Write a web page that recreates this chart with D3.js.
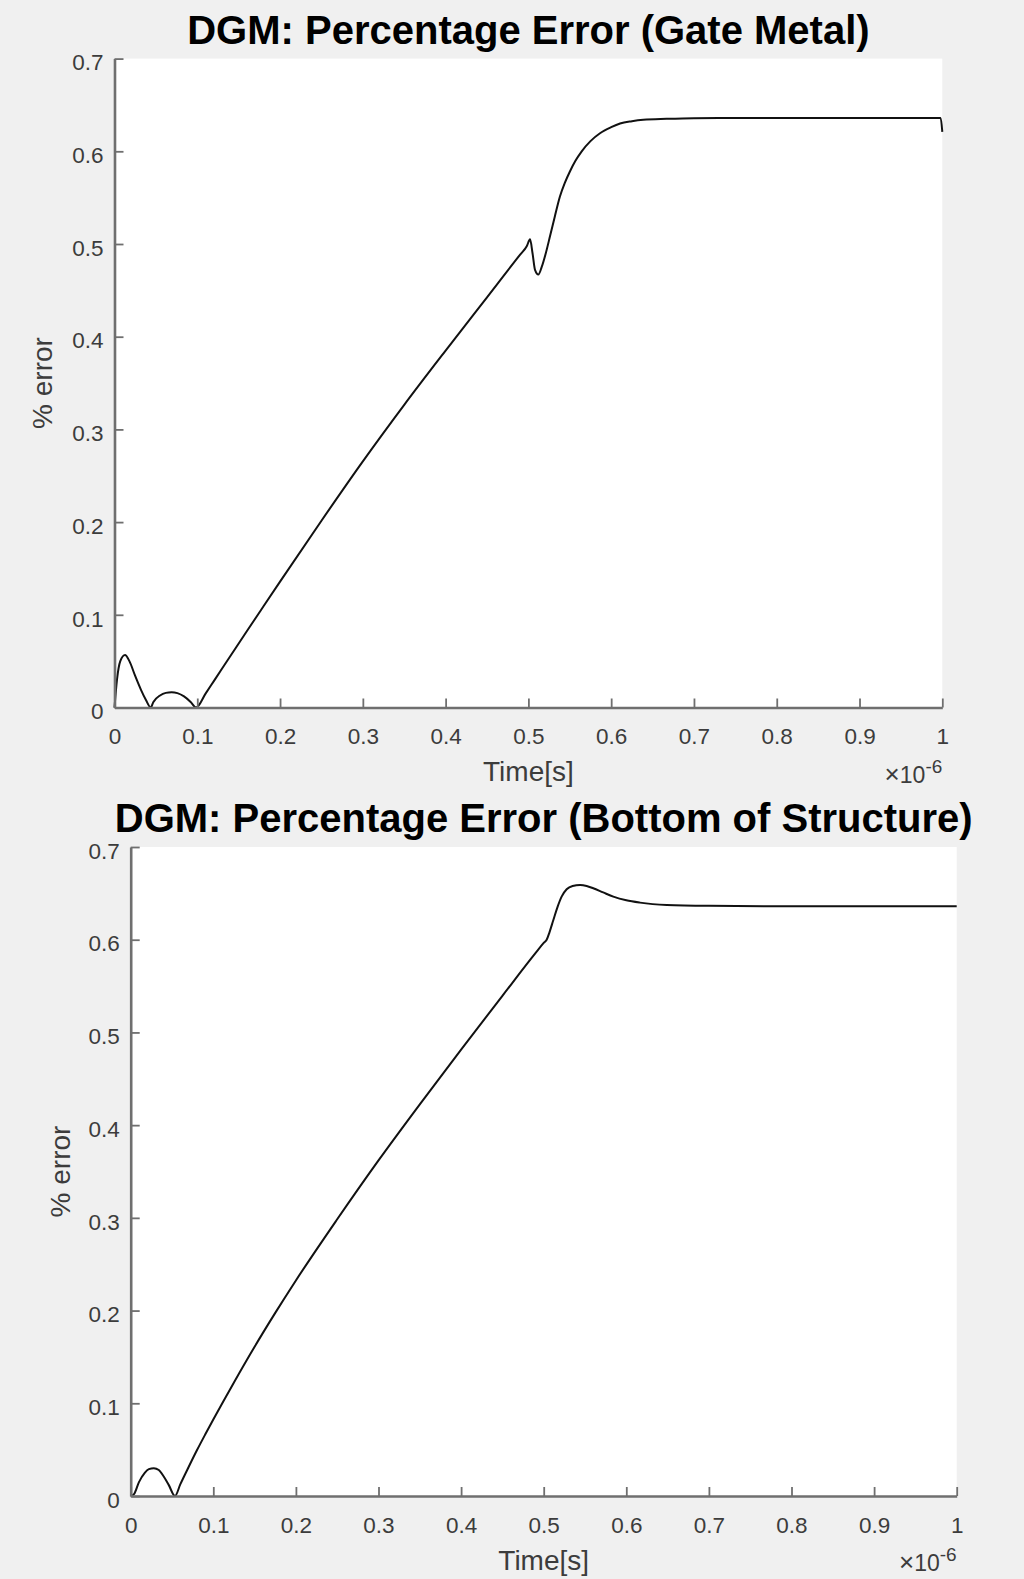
<!DOCTYPE html>
<html>
<head>
<meta charset="utf-8">
<script src="https://cdn.jsdelivr.net/npm/d3@7"></script>
<style>
  html, body { margin: 0; padding: 0; background: #f0f0f0; }
  svg { display: block; }
  text { font-family: "Liberation Sans", Arial, Helvetica, sans-serif; }
</style>
</head>
<body>
<svg id="fig" width="1024" height="1579"></svg>
<script>
// Time axis in units of 1e-6 s, error in percent.
const gateTime = [0, 0.003, 0.007, 0.0127, 0.018, 0.025, 0.032, 0.038, 0.0437, 0.047, 0.055, 0.062, 0.069, 0.076, 0.084, 0.092, 0.0985, 0.11, 0.12, 0.14, 0.16, 0.18, 0.2, 0.25, 0.3, 0.35, 0.4, 0.45, 0.49, 0.498, 0.502, 0.505, 0.508, 0.512, 0.516, 0.521, 0.526, 0.532, 0.538, 0.544, 0.55, 0.557, 0.5644, 0.575, 0.5865, 0.6, 0.6107, 0.625, 0.6388, 0.667, 0.7, 0.8, 0.9, 0.998, 1.0];
const gateError = [0, 0.030, 0.050, 0.0566, 0.050, 0.034, 0.019, 0.008, 0, 0.006, 0.013, 0.0158, 0.0165, 0.0155, 0.012, 0.006, 0, 0.0150, 0.0285, 0.0555, 0.0825, 0.1092, 0.1358, 0.2015, 0.2655, 0.3265, 0.3850, 0.4425, 0.4885, 0.4975, 0.505, 0.490, 0.472, 0.467, 0.475, 0.490, 0.508, 0.530, 0.551, 0.566, 0.578, 0.590, 0.600, 0.611, 0.6195, 0.626, 0.630, 0.6325, 0.634, 0.635, 0.6357, 0.636, 0.636, 0.636, 0.621];

const bottomTime = [0, 0.004, 0.010, 0.017, 0.022, 0.028, 0.034, 0.040, 0.046, 0.0536, 0.06, 0.07, 0.08, 0.09, 0.1, 0.125, 0.15, 0.175, 0.2, 0.25, 0.3, 0.35, 0.4, 0.45, 0.49, 0.5, 0.5036, 0.507, 0.5116, 0.517, 0.5217, 0.5278, 0.535, 0.544, 0.552, 0.56, 0.572, 0.5843, 0.6, 0.6166, 0.649, 0.7, 0.8, 0.9, 1.0];
const bottomError = [0, 0.002, 0.015, 0.025, 0.029, 0.030, 0.028, 0.021, 0.012, 0, 0.0125, 0.031, 0.049, 0.066, 0.0825, 0.1225, 0.161, 0.1975, 0.2325, 0.2985, 0.362, 0.4225, 0.4815, 0.5395, 0.5855, 0.5965, 0.600, 0.608, 0.621, 0.636, 0.6465, 0.6545, 0.658, 0.659, 0.658, 0.6555, 0.651, 0.6465, 0.6425, 0.640, 0.6375, 0.6365, 0.636, 0.636, 0.636];

const xTickValues = [0, 0.1, 0.2, 0.3, 0.4, 0.5, 0.6, 0.7, 0.8, 0.9, 1];
const xTickLabels = ["0", "0.1", "0.2", "0.3", "0.4", "0.5", "0.6", "0.7", "0.8", "0.9", "1"];
const yTickValues = [0, 0.1, 0.2, 0.3, 0.4, 0.5, 0.6, 0.7];
const yTickLabels = ["0", "0.1", "0.2", "0.3", "0.4", "0.5", "0.6", "0.7"];

const panelTitles = ["DGM: Percentage Error (Gate Metal)", "DGM: Percentage Error (Bottom of Structure)"];
const xLabel = "Time[s]";
const yLabel = "% error";

const svg = d3.select("#fig");
svg.append("rect").attr("width", 1024).attr("height", 1579).attr("fill", "#f0f0f0");

const panels = [
  { title: panelTitles[0], t: gateTime, v: gateError,
    box: { left: 114.5, right: 942.3, top: 58.6, bottom: 707.5 },
    titleY: 43.5, yLabelX: 42, xLabelY: 781, expY: 783 },
  { title: panelTitles[1], t: bottomTime, v: bottomError,
    box: { left: 130.7, right: 956.7, top: 847, bottom: 1496 },
    titleY: 831.5, yLabelX: 60, xLabelY: 1570, expY: 1571 }
];

const axisColor = "#6f6f6f";
const tickText = "#3c3c3c";

panels.forEach(p => {
  const b = p.box;
  const x = d3.scaleLinear().domain([0, 1]).range([b.left, b.right]);
  const y = d3.scaleLinear().domain([0, 0.7]).range([b.bottom, b.top]);
  const g = svg.append("g");

  // plotting area
  g.append("rect")
    .attr("x", b.left).attr("y", b.top)
    .attr("width", b.right - b.left).attr("height", b.bottom - b.top)
    .attr("fill", "#ffffff");

  // title
  g.append("text")
    .attr("x", (b.left + b.right) / 2).attr("y", p.titleY)
    .attr("text-anchor", "middle")
    .attr("font-size", 40).attr("font-weight", "bold").attr("fill", "#000")
    .text(p.title);

  // curve
  const line = d3.line()
    .x((d, i) => x(p.t[i]))
    .y(d => y(d))
    .curve(d3.curveMonotoneX);
  g.append("path")
    .datum(p.v)
    .attr("d", line)
    .attr("fill", "none")
    .attr("stroke", "#111")
    .attr("stroke-width", 2)
    .attr("stroke-linejoin", "round");

  // axes with inward ticks
  const xAxis = d3.axisBottom(x)
    .tickValues(xTickValues)
    .tickFormat((d, i) => xTickLabels[i])
    .tickSizeInner(-9).tickSizeOuter(0).tickPadding(21);
  const yAxis = d3.axisLeft(y)
    .tickValues(yTickValues)
    .tickFormat((d, i) => yTickLabels[i])
    .tickSizeInner(-9).tickSizeOuter(0).tickPadding(11);

  const gx = g.append("g").attr("transform", `translate(0,${b.bottom})`).call(xAxis);
  const gy = g.append("g").attr("transform", `translate(${b.left},0)`).call(yAxis);

  [gx, gy].forEach(ax => {
    ax.select(".domain").attr("stroke", axisColor).attr("stroke-width", 2.6);
    ax.selectAll(".tick line").attr("stroke", axisColor).attr("stroke-width", 1.8);
    ax.selectAll(".tick text")
      .attr("fill", tickText)
      .attr("font-size", 22.5)
      .attr("font-family", "'Liberation Sans', Arial, sans-serif");
  });
  gy.selectAll(".tick text").attr("dy", "0.5em");

  // axis labels
  g.append("text")
    .attr("x", (b.left + b.right) / 2).attr("y", p.xLabelY)
    .attr("text-anchor", "middle")
    .attr("font-size", 28).attr("fill", tickText)
    .text(xLabel);

  g.append("text")
    .attr("transform", `translate(${p.yLabelX},${(b.top + b.bottom) / 2}) rotate(-90)`)
    .attr("text-anchor", "middle")
    .attr("dominant-baseline", "central")
    .attr("font-size", 28).attr("fill", tickText)
    .text(yLabel);

  // exponent note for the time axis
  const exp = g.append("text")
    .attr("x", b.right).attr("y", p.expY)
    .attr("text-anchor", "end")
    .attr("font-size", 23).attr("fill", tickText);
  exp.append("tspan").attr("font-size", 26).text("\u00d7");
  exp.append("tspan").text("10");
  exp.append("tspan").attr("dy", -10).attr("font-size", 19).text("-6");
});
</script>
</body>
</html>
